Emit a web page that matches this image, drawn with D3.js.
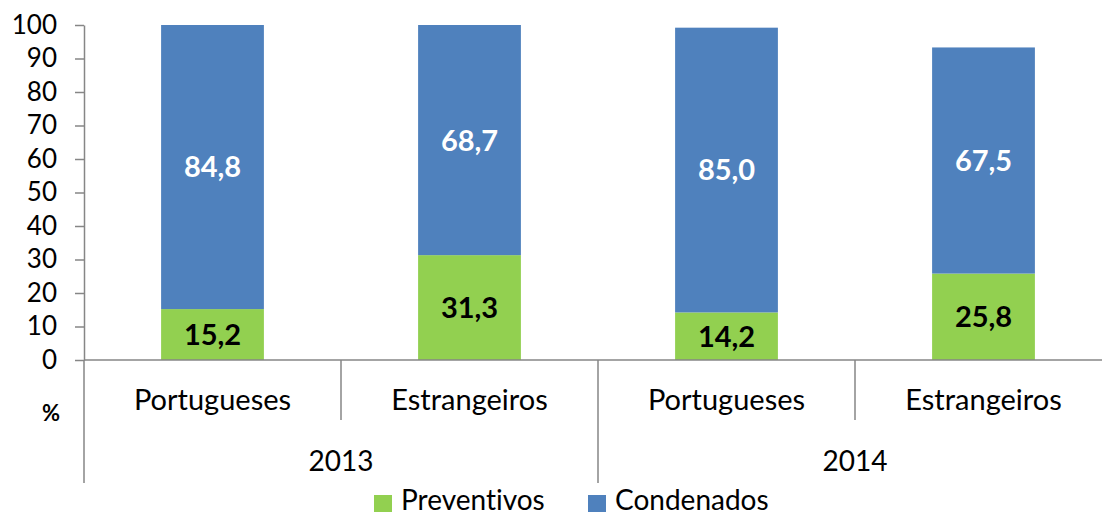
<!DOCTYPE html>
<html>
<head>
<meta charset="utf-8">
<script src="https://cdn.jsdelivr.net/npm/d3@7"></script>
<style>
  html, body { margin: 0; padding: 0; background: #fff; }
  svg { display: block; font-family: Lato, "Open Sans", sans-serif; font-variant-ligatures: none; }
</style>
</head>
<body>
<div id="chart"></div>
<script>
// stacked bars: preventive vs convicted prisoners, by nationality and year
const years = ['2013', '2014'];
const groups = ['Portugueses', 'Estrangeiros'];
const categories = ['2013|Portugueses', '2013|Estrangeiros', '2014|Portugueses', '2014|Estrangeiros'];
const preventivos = [15.2, 31.3, 14.2, 25.8];
const condenados = [84.8, 68.7, 85.0, 67.5];
const yTicks = [0, 10, 20, 30, 40, 50, 60, 70, 80, 90, 100];
const seriesNames = ['Preventivos', 'Condenados'];
const colors = ['#92D050', '#4F81BD'];

const W = 1102, H = 517;
const x0 = 84, x1 = 1112;        // plot runs past the right edge, as in the original
const yTop = 25, yBottom = 360;

const svg = d3.select('#chart').append('svg')
  .attr('width', W).attr('height', H);

const x = d3.scaleBand().domain(categories).range([x0, x1]).paddingInner(0.6).paddingOuter(0.3);
const y = d3.scaleLinear().domain([0, 100]).range([yBottom, yTop]);

// stack the two series
const rows = categories.map((c, i) => ({ cat: c, Preventivos: preventivos[i], Condenados: condenados[i] }));
const stacked = d3.stack().keys(seriesNames)(rows);

const fmt = v => v.toFixed(1).replace('.', ',');

// --- bars ---
const layers = svg.append('g').selectAll('g')
  .data(stacked).join('g')
  .attr('fill', (d, i) => colors[i]);

layers.selectAll('rect')
  .data(d => d)
  .join('rect')
  .attr('x', d => x(d.data.cat))
  .attr('width', x.bandwidth())
  .attr('y', d => y(d[1]))
  .attr('height', d => y(d[0]) - y(d[1]));

// --- value labels ---
layers.each(function(layer, i) {
  d3.select(this).selectAll('text')
    .data(layer)
    .join('text')
    .attr('x', d => x(d.data.cat) + x.bandwidth() / 2)
    .attr('y', d => y((d[0] + d[1]) / 2))
    .attr('dy', '0.36em')
    .attr('text-anchor', 'middle')
    .attr('font-size', 29)
    .attr('font-weight', 'bold')
    .attr('fill', i === 0 ? '#000' : '#fff')
    .text(d => fmt(d[1] - d[0]));
});

// --- y axis ---
const yAxis = svg.append('g')
  .attr('transform', `translate(${x0},0)`)
  .call(d3.axisLeft(y).tickValues(yTicks).tickSize(9).tickPadding(18).tickSizeOuter(0));
yAxis.select('.domain').attr('stroke', '#868686').attr('stroke-width', 1.5);
yAxis.selectAll('.tick line').attr('stroke', '#868686').attr('stroke-width', 1.5);
yAxis.selectAll('.tick text').attr('font-size', 26).attr('font-family', 'Lato, sans-serif').attr('fill', '#000');

// --- x axis (two-level) ---
const axisColor = '#868686';
const xa = svg.append('g').attr('stroke', axisColor).attr('stroke-width', 1.5);
xa.append('line').attr('x1', x0).attr('x2', x1).attr('y1', yBottom).attr('y2', yBottom);
// left edge extends down through both label rows
xa.append('line').attr('x1', x0).attr('x2', x0).attr('y1', yBottom).attr('y2', 483);

const step = x.step();
// separators between categories inside a year
years.forEach((yr, i) => {
  const start = x0 + i * 2 * step;
  xa.append('line').attr('x1', start + step).attr('x2', start + step).attr('y1', yBottom).attr('y2', 420);
  xa.append('line').attr('x1', start + 2 * step).attr('x2', start + 2 * step).attr('y1', yBottom).attr('y2', 483);
});

svg.append('g').selectAll('text')
  .data(categories).join('text')
  .attr('x', d => x(d) + x.bandwidth() / 2)
  .attr('y', 410)
  .attr('text-anchor', 'middle')
  .attr('font-size', 29)
  .text(d => d.split('|')[1]);

svg.append('g').selectAll('text')
  .data(years).join('text')
  .attr('x', (d, i) => x0 + (i * 2 + 1) * step)
  .attr('y', 471)
  .attr('text-anchor', 'middle')
  .attr('font-size', 28)
  .text(d => d);

svg.append('text')
  .attr('x', 51).attr('y', 421)
  .attr('text-anchor', 'middle')
  .attr('font-size', 22)
  .attr('font-weight', 'bold')
  .text('%');

// --- legend ---
const legendX = [374, 588];
const legend = svg.append('g').selectAll('g')
  .data(seriesNames).join('g')
  .attr('transform', (d, i) => `translate(${legendX[i]},495)`);
legend.append('rect').attr('width', 18).attr('height', 17).attr('fill', (d, i) => colors[i]);
legend.append('text')
  .attr('x', 27).attr('y', 15)
  .attr('font-size', 28)
  .text(d => d);
</script>
</body>
</html>
